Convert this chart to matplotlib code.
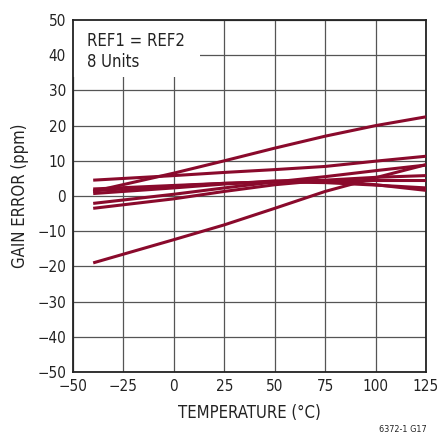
import matplotlib.pyplot as plt
import matplotlib.patches as mpatches
import numpy as np

plt.rcParams['font.family'] = ['DejaVu Sans']
plt.rcParams['font.stretch'] = 'condensed'

temp = [-40, 0, 25, 50, 75, 100, 125]

# gain error (ppm) for the 8 units
unit_a = [1.3, 6.5, 10.0, 13.6, 17.0, 20.0, 22.5]
unit_b = [4.5, 5.8, 6.7, 7.5, 8.4, 9.9, 11.3]
unit_c = [-19.0, -12.4, -8.2, -3.5, 1.3, 5.2, 8.9]
unit_d = [-2.1, 0.5, 2.3, 4.0, 5.5, 7.2, 8.8]
unit_e = [-3.5, -0.8, 1.3, 3.2, 4.5, 5.3, 5.8]
unit_f = [2.0, 3.0, 3.6, 4.0, 4.3, 4.4, 4.4]
unit_g = [1.5, 2.8, 3.6, 4.0, 3.8, 3.1, 2.3]
unit_h = [0.7, 2.3, 3.4, 4.3, 4.4, 3.2, 1.6]
units = [unit_a, unit_b, unit_c, unit_d, unit_e, unit_f, unit_g, unit_h]

x_ticks = [-50, -25, 0, 25, 50, 75, 100, 125]
y_ticks = [-50, -40, -30, -20, -10, 0, 10, 20, 30, 40, 50]

fig = plt.figure(figsize=(4.38, 4.38), dpi=100)
ax = fig.add_axes([0.1667, 0.1507, 0.806, 0.8036])

line_color = '#8a0a2c'
for u in units:
    ax.plot(temp, u, color=line_color, lw=2.2, solid_capstyle='butt', zorder=3)

ax.set_xlim(-50, 125)
ax.set_ylim(-50, 50)
ax.set_xticks(x_ticks)
ax.set_yticks(y_ticks)
ax.grid(True, color='#555555', lw=0.9, zorder=1)
ax.set_axisbelow(True)
ax.tick_params(length=0, labelsize=11, colors='#222222', pad=5)
for s in ax.spines.values():
    s.set_linewidth(1.3)
    s.set_color('#222222')

ax.set_xlabel('TEMPERATURE (°C)', fontsize=12, color='#222222', labelpad=7)
ax.set_ylabel('GAIN ERROR (ppm)', fontsize=12, color='#222222', labelpad=6)

# white label box over the grid in the top left corner
ax.add_patch(mpatches.Rectangle((-50, 33.8), 63, 16.2, fc='white', ec='none', zorder=2))
ax.text(-43, 46.5, 'REF1 = REF2\n8 Units', fontsize=12, color='#222222',
        va='top', ha='left', linespacing=1.2, zorder=4)

fig.text(0.975, 0.008, '6372-1 G17', fontsize=6.5, color='#222222', ha='right', va='bottom')

fig.savefig('out.png', dpi=100)
